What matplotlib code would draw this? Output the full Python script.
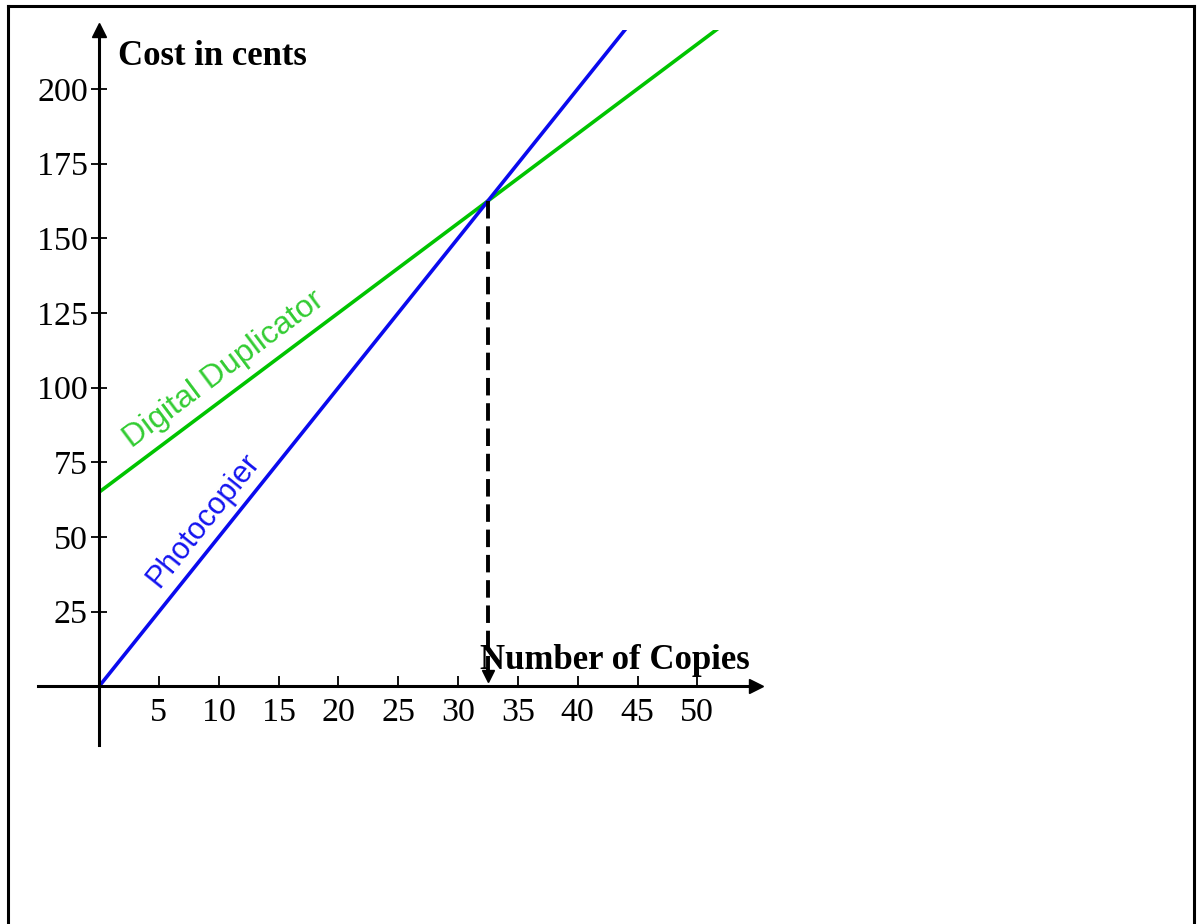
import matplotlib
matplotlib.use("Agg")
import matplotlib.pyplot as plt
from matplotlib.lines import Line2D
import numpy as np

# data
copies = [0, 60]
photocopier = [0, 300]          # 5 cents per copy
duplicator = [65, 245]          # 65 + 3 cents per copy
x_ticks = [5, 10, 15, 20, 25, 30, 35, 40, 45, 50]
y_ticks = [25, 50, 75, 100, 125, 150, 175, 200]
break_even_x = 32.5
break_even_y = 162.5

W, H = 1197, 924
fig = plt.figure(figsize=(W / 100, H / 100), dpi=100)

# axes placed in pixels: x from -5.1..54.9, y from -19.6..219.7
x0, x1 = 38, 756
y0, y1 = 745, 30
ax = fig.add_axes([x0 / W, 1 - y0 / H, (x1 - x0) / W, (y0 - y1) / H])
ax.set_xlim(-5.1, 54.9)
ax.set_ylim(-19.6, 219.7)
ax.patch.set_alpha(0)

serif = ['Liberation Serif', 'DejaVu Serif']
sans = ['Liberation Sans', 'DejaVu Sans']

ax.plot(copies, duplicator, color='#00c400', lw=2.6, solid_capstyle='butt')
ax.plot(copies, photocopier, color='#0a0aee', lw=2.6, solid_capstyle='butt')

# break-even dashed line with arrow
ax.plot([break_even_x, break_even_x], [break_even_y, 3], color='black', lw=2.8,
        dashes=(4.5, 2))
ax.plot(break_even_x, 3.5, marker='v', color='black', ms=9, clip_on=False)

# axes through origin with arrows
for s in ['top', 'right']:
    ax.spines[s].set_visible(False)
ax.spines['left'].set_position(('data', 0))
ax.spines['bottom'].set_position(('data', 0))
ax.spines['left'].set_linewidth(2.2)
ax.spines['bottom'].set_linewidth(2.2)
ax.plot(1, 0, '>k', ms=10, transform=ax.get_yaxis_transform(), clip_on=False)
ax.plot(0, 1, '^k', ms=10, transform=ax.get_xaxis_transform(), clip_on=False)

ax.set_xticks(x_ticks)
ax.set_yticks(y_ticks)
ax.set_xticklabels([str(v) for v in x_ticks], family=serif, fontsize=24.5)
ax.set_yticklabels([str(v) for v in y_ticks], family=serif, fontsize=24.5)
ax.tick_params(axis='x', direction='in', length=7, width=1.3, pad=8)
ax.tick_params(axis='y', direction='inout', length=12, width=1.3, pad=2)

ax.text(1.6, 208, 'Cost in cents', family=serif, fontsize=25, fontweight='bold',
        ha='left', va='baseline')
ax.text(31.8, 6, 'Number of Copies', family=serif, fontsize=25, fontweight='bold',
        ha='left', va='baseline')

ax.text(10.4, 106, 'Digital Duplicator', color='#33cc33', family=sans, fontsize=23,
        rotation=36.8, ha='center', va='center', rotation_mode='anchor')
ax.text(8.7, 55.5, 'Photocopier', color='#1414f0', family=sans, fontsize=22,
        rotation=51.3, ha='center', va='center', rotation_mode='anchor')

# outer frame (left, top, right)
frame = dict(color='black', lw=2.2, transform=fig.transFigure)
fig.add_artist(Line2D([8 / W, 8 / W], [0, 1 - 6 / H], **frame))
fig.add_artist(Line2D([8 / W, 1194 / W], [1 - 6 / H, 1 - 6 / H], **frame))
fig.add_artist(Line2D([1194 / W, 1194 / W], [0, 1 - 6 / H], **frame))

fig.savefig('out.png', dpi=100)
plt.close()
